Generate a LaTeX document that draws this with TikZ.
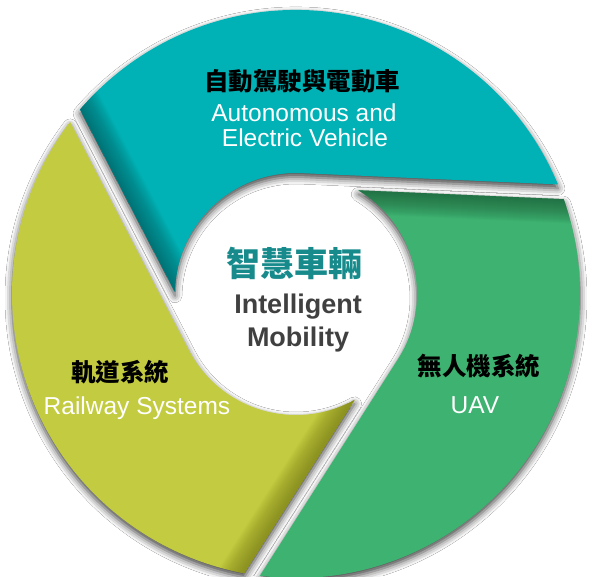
\documentclass[tikz,border=0pt]{standalone}
\usepackage{fontspec}
\setmainfont{Liberation Sans}
\newfontfamily\cjk{Noto Sans CJK TC}
\usetikzlibrary{shadows.blur}
\definecolor{tealseg}{HTML}{00B2B5}
\definecolor{tealdark}{HTML}{005F62}
\definecolor{greenseg}{HTML}{3EB271}
\definecolor{greendark}{HTML}{1E5E38}
\definecolor{yellowseg}{HTML}{C3CC40}
\definecolor{yellowdark}{HTML}{7A7E18}
\definecolor{titleteal}{HTML}{178A8C}
\definecolor{textgray}{HTML}{404040}
\newcommand\segpath[1]{({87.5+#1}:121) -- ({22.7+#1}:284) arc[start angle={22.7+#1}, end angle={139.5+#1}, radius=284] -- ({179+#1}:121) arc[start angle={179+#1}, end angle={87.5+#1}, radius=121] -- cycle}
\tikzset{
  zhlabel/.style={font=\cjk\bfseries\fontsize{24.5}{26}\selectfont, text=black, inner sep=0pt},
  enlabel/.style={font=\fontsize{24.5}{25}\selectfont, text=white, inner sep=0pt, anchor=base},
  imlabel/.style={font=\bfseries\fontsize{27}{28}\selectfont, text=textgray, inner sep=0pt, anchor=base},
  segshadow/.style={blur shadow={shadow xshift=0pt, shadow yshift=-4pt, shadow blur radius=7pt, shadow opacity=75}}
}
\begin{document}
\begin{tikzpicture}[x=1pt,y=1pt]
\useasboundingbox (0,0) rectangle (592,576);
\fill[white] (0,0) rectangle (592,576);
\begin{scope}[shift={(296,282)}]
  % shadows first
  \foreach \t in {0,240,120} {
    \path[segshadow] \segpath{\t};
  }
  % segments
  \foreach \t/\base/\dark in {0/tealseg/tealdark, 240/greenseg/greendark, 120/yellowseg/yellowdark} {
    \fill[\base] \segpath{\t};
    \begin{scope}
      \clip \segpath{\t};
      \foreach \k in {1,...,24} {
        \fill[\dark, opacity=0.045, rotate={207.5+\t}] ({106.4-\k},-300) rectangle (110,300);
      }
    \end{scope}
  }
\end{scope}
% labels
\node[zhlabel] (zhA) at (302,495.2) {自動駕駛與電動車};
\node[enlabel] (enA1) at (304,454.3) {Autonomous and};
\node[enlabel] (enA2) at (305,429.3) {Electric Vehicle};
\node[zhlabel] (zhB) at (479,210.2) {無人機系統};
\node[enlabel] (enB) at (475,162.7) {UAV};
\node[zhlabel] (zhC) at (120,204.3) {軌道系統};
\node[enlabel] (enC) at (137,161) {Railway Systems};
\node[font=\cjk\bfseries\fontsize{34}{36}\selectfont, text=titleteal, inner sep=0pt] (title) at (294.5,312.7) {智慧車輛};
\node[imlabel] (im1) at (298,262) {Intelligent};
\node[imlabel] (im2) at (298,229) {Mobility};
\end{tikzpicture}
\end{document}
